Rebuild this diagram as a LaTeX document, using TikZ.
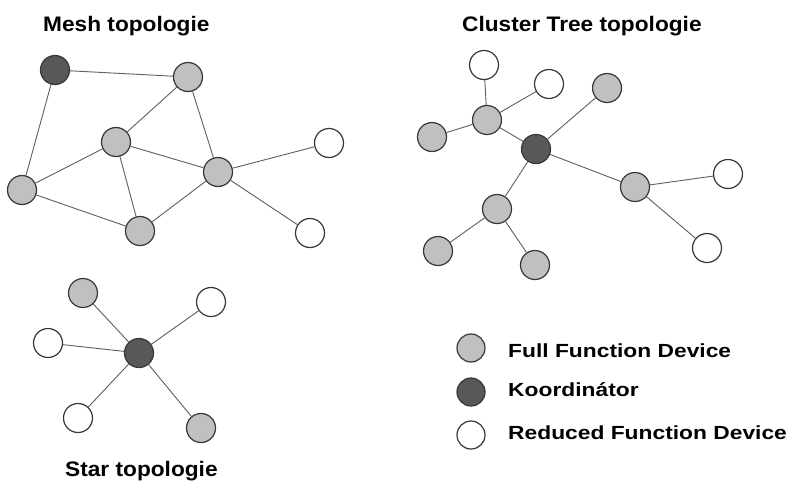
\documentclass[tikz,border=0pt]{standalone}
\usepackage{fontspec}
\setmainfont{Liberation Sans}
\newfontfamily\titlefont[FakeStretch=1.08]{Liberation Sans}
\newfontfamily\legendfont[FakeStretch=1.2]{Liberation Sans}
\usetikzlibrary{backgrounds}
\definecolor{ffdgray}{RGB}{192,192,192}
\definecolor{koordgray}{RGB}{88,88,88}
\definecolor{rimgray}{RGB}{55,55,55}
\definecolor{linkgray}{RGB}{95,95,95}

\begin{document}
\begin{tikzpicture}[%
    x=1pt,y=-1pt,%
    show background rectangle,%
    tight background,%
    background rectangle/.style={fill=white},%
    dev/.style={circle, draw=rimgray, line width=1.2pt, minimum size=29pt, inner sep=0pt},%
    ffd/.style={dev, fill=ffdgray},%
    koord/.style={dev, fill=koordgray},%
    rfd/.style={dev, fill=white},%
    link/.style={draw=linkgray, line width=0.9pt},%
    topotitle/.style={font=\titlefont\bfseries\fontsize{21}{25}\selectfont, anchor=base west, inner sep=0pt},%
    legendtext/.style={font=\legendfont\bfseries\fontsize{19}{23}\selectfont, anchor=base west, inner sep=0pt}%
  ]
  \useasboundingbox (0,0) rectangle (791,482);%

  % Titles
  \node[topotitle] (meshtitle) at (43,31) {Mesh topologie};%
  \node[topotitle] (treetitle) at (462,31) {Cluster Tree topologie};%
  \node[topotitle] (startitle) at (65,476) {Star topologie};%

  % Mesh nodes
  \node[koord] (m0) at (55,70) {};%
  \node[ffd] (m1) at (188,77) {};%
  \node[ffd] (m2) at (116,142) {};%
  \node[ffd] (m3) at (218,172) {};%
  \node[ffd] (m4) at (22,190) {};%
  \node[ffd] (m5) at (140,231) {};%
  \node[rfd] (m6) at (329,143) {};%
  \node[rfd] (m7) at (310,233) {};%

  % Mesh lines
  \draw[link] (m0) -- (m1);%
  \draw[link] (m0) -- (m4);%
  \draw[link] (m1) -- (m2);%
  \draw[link] (m1) -- (m3);%
  \draw[link] (m2) -- (m3);%
  \draw[link] (m2) -- (m4);%
  \draw[link] (m2) -- (m5);%
  \draw[link] (m4) -- (m5);%
  \draw[link] (m5) -- (m3);%
  \draw[link] (m3) -- (m6);%
  \draw[link] (m3) -- (m7);%

  % Cluster tree nodes
  \node[koord] (c0) at (536,149) {};%
  \node[ffd] (c1) at (487,120) {};%
  \node[ffd] (c2) at (432,137) {};%
  \node[rfd] (c3) at (484,65) {};%
  \node[rfd] (c4) at (549,84) {};%
  \node[ffd] (c5) at (607,88) {};%
  \node[ffd] (c6) at (635,187) {};%
  \node[rfd] (c7) at (728,174) {};%
  \node[rfd] (c8) at (707,248) {};%
  \node[ffd] (c9) at (497,209) {};%
  \node[ffd] (c10) at (438,251) {};%
  \node[ffd] (c11) at (535,265) {};%

  % Cluster tree lines
  \draw[link] (c1) -- (c3);%
  \draw[link] (c1) -- (c4);%
  \draw[link] (c1) -- (c2);%
  \draw[link] (c1) -- (c0);%
  \draw[link] (c0) -- (c5);%
  \draw[link] (c0) -- (c6);%
  \draw[link] (c6) -- (c7);%
  \draw[link] (c6) -- (c8);%
  \draw[link] (c0) -- (c9);%
  \draw[link] (c9) -- (c10);%
  \draw[link] (c9) -- (c11);%

  % Star nodes
  \node[koord] (s0) at (139,353) {};%
  \node[ffd] (s1) at (83,293) {};%
  \node[rfd] (s2) at (211,302) {};%
  \node[rfd] (s3) at (48,343) {};%
  \node[rfd] (s4) at (78,418) {};%
  \node[ffd] (s5) at (201,428) {};%

  % Star lines
  \draw[link] (s0) -- (s1);%
  \draw[link] (s0) -- (s2);%
  \draw[link] (s0) -- (s3);%
  \draw[link] (s0) -- (s4);%
  \draw[link] (s0) -- (s5);%

  % Legend
  \node[ffd, minimum size=28pt] (lffd) at (471,348) {};%
  \node[koord, minimum size=28pt] (lkoord) at (471,392) {};%
  \node[rfd, minimum size=28pt] (lrfd) at (471,435) {};%
  \node[legendtext] (tffd) at (508,357) {Full Function Device};%
  \node[legendtext] (tkoord) at (508,396) {Koordinátor};%
  \node[legendtext] (trfd) at (508,439) {Reduced Function Device};%
\end{tikzpicture}
\end{document}
